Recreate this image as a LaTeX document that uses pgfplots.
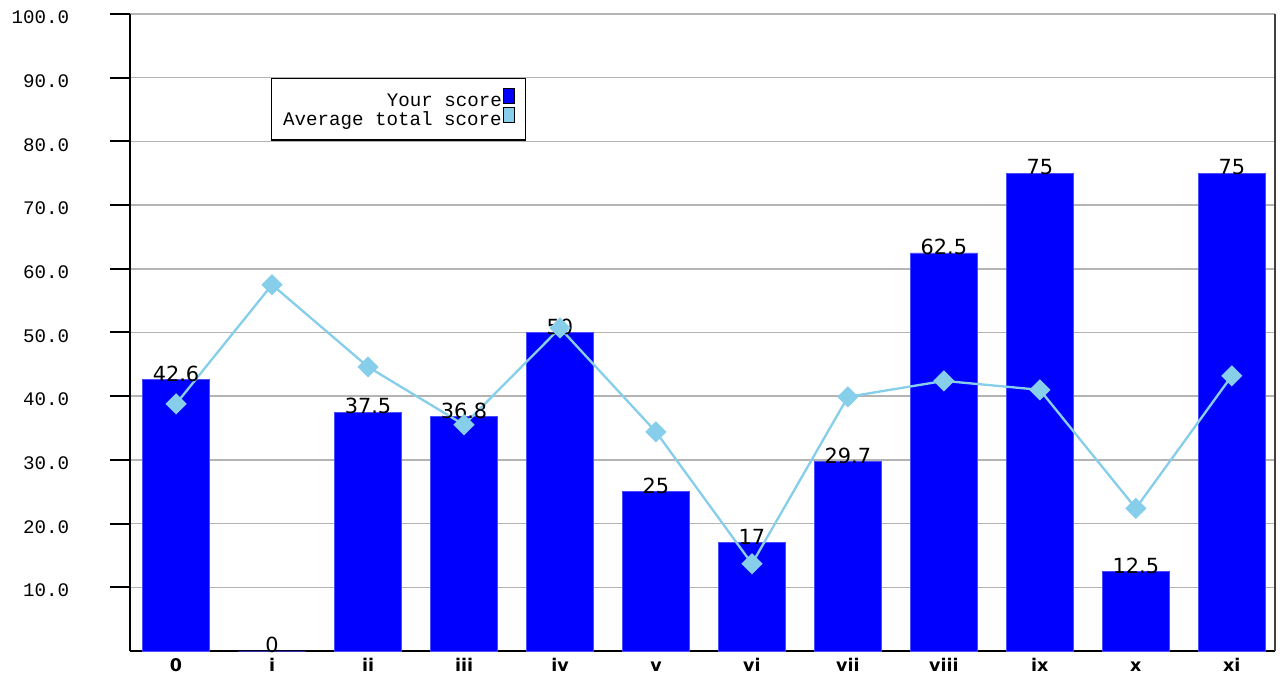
\documentclass[border=0pt]{standalone}
\usepackage{fontspec}
\setmainfont{DejaVu Sans}
\newfontfamily\monofont{Liberation Mono}
\usepackage{pgfplots}
\usepackage{pgfplotstable}
\pgfplotsset{compat=1.18}
\definecolor{skyb}{RGB}{135,206,235}
\definecolor{barblue}{RGB}{0,0,255}
\definecolor{gridgray}{RGB}{180,180,180}

\pgfplotstableread{
x y lab avg
0 42.6 42.6 38.8
1 0 0 57.5
2 37.5 37.5 44.6
3 36.8 36.8 35.5
4 50 50 50.7
5 25 25 34.4
6 17 17 13.7
7 29.7 29.7 39.9
8 62.5 62.5 42.4
9 75 75 41.0
10 12.5 12.5 22.4
11 75 75 43.2
}\datatable

\begin{document}
\begin{tikzpicture}
\begin{axis}[
  name=ax,
  scale only axis,
  width=687pt, height=382.2pt,
  xmin=-0.48, xmax=11.45,
  ymin=0, ymax=100,
  clip=false,
  axis x line*=bottom,
  axis y line*=left,
  axis line style={black, line width=1.2pt},
  xtick={0,...,11},
  xticklabels={0,i,ii,iii,iv,v,vi,vii,viii,ix,x,xi},
  x tick style={draw=none},
  xticklabel style={font=\bfseries\fontsize{10.5}{12}\selectfont, text height=7.5pt, yshift=11pt},
  ytick={10,20,...,100},
  tick align=outside,
  major tick length=12pt,
  y tick style={black, line width=1.2pt},
  yticklabel style={font=\monofont\fontsize{11.5}{13}\selectfont, anchor=east, yshift=-2pt, xshift=-21pt},
  yticklabel={\pgfmathprintnumber[fixed, fixed zerofill, precision=1, assume math mode=true]{\tick}},
  ymajorgrids,
  grid style={gridgray, line width=0.9pt},
  legend style={at={(0.123,0.9)}, anchor=north west, draw=black, line width=0.9pt,
    font=\monofont\fontsize{11.5}{13}\selectfont,
    inner xsep=6pt, inner ysep=5.5pt, row sep=-2.7pt,
    nodes={inner sep=1pt, text height=8pt, text depth=2pt}},
  legend cell align=right,
  legend plot pos=right,
]
\addplot[ybar, bar width=0.7, fill=barblue, draw=barblue!70!white, line width=0.4pt,
  nodes near coords, point meta=explicit symbolic,
  nodes near coords style={anchor=base, inner sep=0pt, yshift=-1pt, font=\fontsize{12.5}{14}\selectfont, text=black},
  legend image code/.code={\draw[fill=barblue, draw=black, line width=0.6pt] (0pt,-1pt) rectangle (6.5pt,8pt);}]
  table[x=x, y=y, meta=lab]{\datatable};
\addlegendentry{Your score}
\addplot[skyb, line width=1.4pt, mark=square*, mark size=3.8pt, mark options={rotate=45, fill=skyb, draw=skyb},
  legend image code/.code={\draw[fill=skyb, draw=black, line width=0.6pt] (0pt,-1pt) rectangle (6.5pt,8pt);}]
  table[x=x, y=avg]{\datatable};
\addlegendentry{Average total score}
\draw[black!75, line width=1.2pt] (rel axis cs:1,0) -- (rel axis cs:1,1);
\end{axis}
\pgfresetboundingbox
\path ([shift={(-78pt,-15.6pt)}]ax.south west) rectangle ([shift={(4.2pt,8.4pt)}]ax.north east);
\end{tikzpicture}
\end{document}
